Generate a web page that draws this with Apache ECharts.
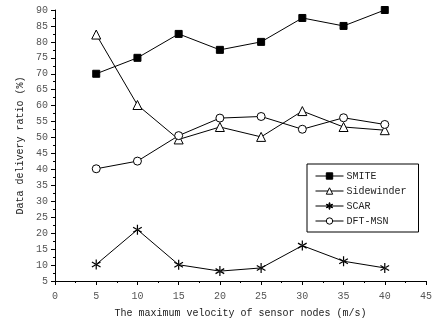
<!DOCTYPE html>
<html>
<head>
<meta charset="utf-8">
<script src="https://cdn.jsdelivr.net/npm/echarts@6/dist/echarts.min.js"></script>
<style>
  html, body { margin: 0; padding: 0; background: #fff; }
  #chart { width: 435px; height: 328px; }
</style>
</head>
<body>
<div id="chart"></div>
<script>
// maximum velocity (m/s)
var velocity = [5, 10, 15, 20, 25, 30, 35, 40];
var smite = [70, 75, 82.5, 77.5, 80, 87.5, 85, 90];
var sidewinder = [82.3, 60.2, 49.4, 53.3, 50.2, 58.3, 53.3, 52.3];
var scar = [10.2, 21.1, 10.1, 8.1, 9.1, 16.1, 11.2, 9.1];
var dftmsn = [40.2, 42.6, 50.6, 56.1, 56.6, 52.6, 56.2, 54.1];

var font = 'Liberation Mono';
// asterisk made of three thin filled bars
var star = 'path://M-0.6,-5L0.6,-5L0.6,5L-0.6,5Z' +
    'M-4.03,-3.02L4.63,1.98L4.03,3.02L-4.63,-1.98Z' +
    'M-4.03,3.02L4.63,-1.98L4.03,-3.02L-4.63,1.98Z';

function pairs(ys) {
    var out = [];
    for (var i = 0; i < velocity.length; i++) out.push([velocity[i], ys[i]]);
    return out;
}

function mkSeries(name, ys, symbol, size, fill, bw) {
    return {
        name: name,
        type: 'line',
        data: pairs(ys),
        symbol: symbol,
        symbolSize: size,
        symbolKeepAspect: true,
        showAllSymbol: true,
        lineStyle: { color: '#000', width: 1 },
        itemStyle: { color: fill, borderColor: '#000', borderWidth: bw },
        emphasis: { disabled: true },
        animation: false
    };
}

var chart = echarts.init(document.getElementById('chart'));
chart.setOption({
    backgroundColor: '#fff',
    grid: { left: 55, right: 6, top: 10, bottom: 47 },
    legend: {
        orient: 'vertical',
        left: 307,
        top: 164,
        padding: [7, 12, 6, 8],
        borderColor: '#000',
        borderWidth: 1,
        itemWidth: 28,
        itemHeight: 8,
        itemGap: 5,
        lineStyle: { width: 1 },
        itemStyle: { borderWidth: 1 },
        textStyle: { fontFamily: font, fontSize: 10, color: '#222', padding: [0, 0, 0, -2] },
        data: ['SMITE', 'Sidewinder', 'SCAR', 'DFT-MSN']
    },
    xAxis: {
        type: 'value',
        min: 0, max: 45, interval: 5,
        name: 'The maximum velocity of sensor nodes (m/s)',
        nameLocation: 'middle',
        nameGap: 27,
        nameTextStyle: { fontFamily: font, fontSize: 10, color: '#222' },
        axisLine: { lineStyle: { color: '#000', width: 1 } },
        axisTick: { inside: false, length: 4, lineStyle: { color: '#000' } },
        minorTick: { show: true, splitNumber: 2, length: 2, lineStyle: { color: '#000' } },
        axisLabel: { fontFamily: font, fontSize: 10, color: '#555', margin: 10 },
        splitLine: { show: false }
    },
    yAxis: {
        type: 'value',
        min: 5, max: 90, interval: 5,
        name: 'Data delivery ratio (%)',
        nameLocation: 'middle',
        nameGap: 30,
        nameTextStyle: { fontFamily: font, fontSize: 10, color: '#222' },
        axisLine: { show: true, lineStyle: { color: '#000', width: 1 } },
        axisTick: { show: true, inside: false, length: 4, lineStyle: { color: '#000' } },
        minorTick: { show: true, splitNumber: 2, length: 2, lineStyle: { color: '#000' } },
        axisLabel: { fontFamily: font, fontSize: 10, color: '#555', margin: 7 },
        splitLine: { show: false }
    },
    series: [
        mkSeries('SMITE', smite, 'rect', 7, '#000', 1),
        mkSeries('Sidewinder', sidewinder, 'triangle', 9, '#fff', 1),
        mkSeries('SCAR', scar, star, 10, '#000', 0),
        mkSeries('DFT-MSN', dftmsn, 'circle', 8, '#fff', 1)
    ]
});
</script>
</body>
</html>
